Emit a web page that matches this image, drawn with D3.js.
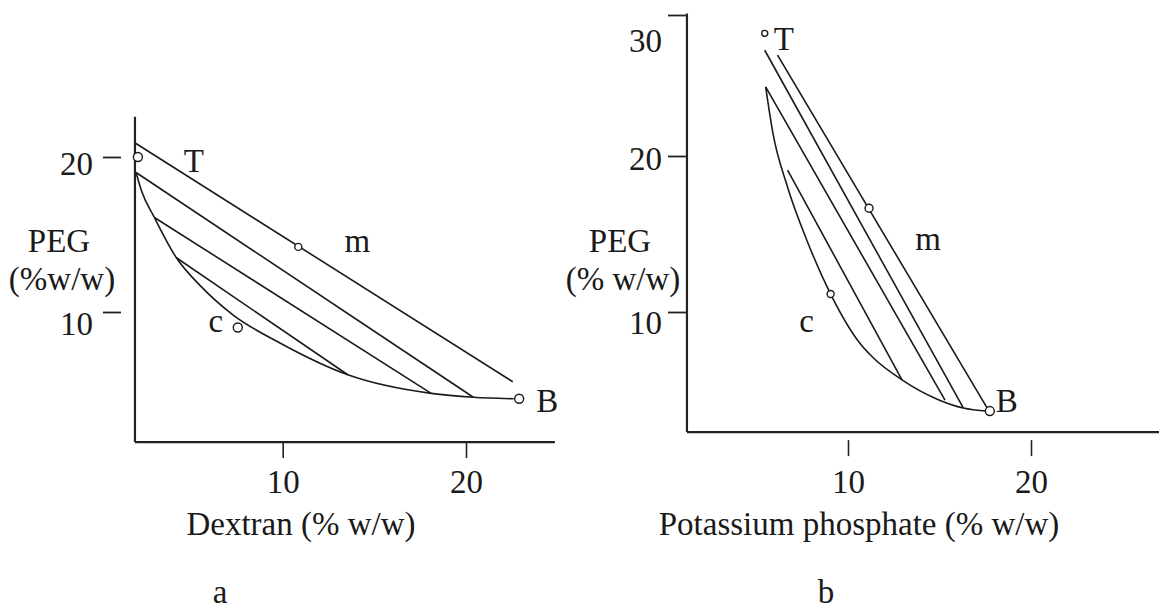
<!DOCTYPE html>
<html lang="en">
<head>
<meta charset="utf-8">
<title>PEG phase diagrams</title>
<script src="https://cdn.jsdelivr.net/npm/d3@7"></script>
<style>
  body { margin: 0; background: #fff; }
  svg text { font-family: "Liberation Serif", "Times New Roman", serif; fill: #1a1a1a; }
</style>
</head>
<body>
<script>
// ---- panel a : PEG / Dextran ----
var dexCurveX = [2.0, 2.3, 3.0, 4.2, 5.5, 7.3, 9.85, 13.55, 18.1, 20.4, 22.6];
var dexCurveY = [19.0, 17.8, 16.1, 13.5, 11.7, 9.8, 8.0, 5.95, 4.75, 4.5, 4.4];
var dexTieX1 = [1.95, 2.0, 3.0, 4.2];
var dexTieY1 = [20.9, 19.0, 16.1, 13.5];
var dexTieX2 = [22.55, 20.4, 18.1, 13.55];
var dexTieY2 = [5.5, 4.5, 4.75, 5.95];
var dexPointNames = ["T", "m", "c", "B"];
var dexPointX = [2.1, 10.85, 7.55, 22.9];
var dexPointY = [20.0, 14.2, 9.0, 4.4];
var dexXTicks = [10, 20];
var dexYTicks = [10, 20];

// ---- panel b : PEG / potassium phosphate ----
var phosCurveX = [5.5, 5.9, 6.7, 7.75, 9.05, 10.65, 11.35, 12.95, 15.0, 16.3, 17.6];
var phosCurveY = [24.9, 21.6, 18.0, 14.6, 11.15, 8.0, 7.1, 5.65, 4.35, 3.85, 3.65];
var phosTieX1 = [6.15, 5.45, 5.5, 6.7];
var phosTieY1 = [27.15, 27.5, 24.9, 19.1];
var phosTieX2 = [17.6, 16.3, 15.3, 12.95];
var phosTieY2 = [3.85, 3.85, 4.35, 5.65];
var phosPointNames = ["T", "m", "c", "B"];
var phosPointX = [5.45, 11.15, 9.05, 17.75];
var phosPointY = [28.7, 16.65, 11.15, 3.65];
var phosXTicks = [10, 20];
var phosYTicks = [10, 20, 30];

var W = 1159, H = 610;
var svg = d3.select("body").append("svg").attr("width", W).attr("height", H);
svg.append("rect").attr("width", W).attr("height", H).attr("fill", "#fff");

function zip(xs, ys) {
    return xs.map(function (d, i) { return [d, ys[i]]; });
}

function drawPanel(p) {
    var g = svg.append("g");
    var x = p.x, y = p.y;

    // axis lines
    g.append("line")
        .attr("x1", x(p.xMin)).attr("x2", x(p.xMin))
        .attr("y1", y(p.yMax)).attr("y2", y(p.yMin))
        .attr("stroke", "#222").attr("stroke-width", 2.2);
    g.append("line")
        .attr("x1", x(p.xMin)).attr("x2", x(p.xMax))
        .attr("y1", y(p.yMin)).attr("y2", y(p.yMin))
        .attr("stroke", "#222").attr("stroke-width", 2.2);

    // x axis ticks + labels
    var gx = g.append("g").attr("transform", "translate(0," + y(p.yMin) + ")")
        .call(d3.axisBottom(x).tickValues(p.xTicks).tickSize(16).tickPadding(12));
    gx.select(".domain").remove();
    gx.selectAll(".tick line").attr("y1", p.xTickGap).attr("y2", p.xTickGap + 16)
        .attr("stroke", "#222").attr("stroke-width", 1.6);
    gx.selectAll(".tick text").attr("font-size", 33).attr("font-family", null)
        .attr("y", 51 - (y(p.yMin) - 442)).attr("dy", 0);

    // y axis ticks + labels
    var gy = g.append("g").attr("transform", "translate(" + x(p.xMin) + ",0)")
        .call(d3.axisLeft(y).tickValues(p.yTicks).tickSize(0));
    gy.select(".domain").remove();
    gy.selectAll(".tick line").attr("x1", -p.yTickOut).attr("x2", -p.yTickIn)
        .attr("stroke", "#222").attr("stroke-width", 1.8);
    gy.selectAll(".tick text").attr("font-size", 33).attr("font-family", null)
        .attr("x", -p.yLabelGap)
        .attr("transform", function (d) { return "translate(0," + (p.labelY(d) - y(d)) + ")"; })
        .attr("dy", "0.34em");
    gy.attr("font-family", null).attr("font-size", null);
    gx.attr("font-family", null).attr("font-size", null);

    // binodal curve
    var line = d3.line().x(function (d) { return x(d[0]); }).y(function (d) { return y(d[1]); });
    g.append("path")
        .datum(zip(p.curveX, p.curveY))
        .attr("d", line.curve(d3.curveMonotoneX))
        .attr("fill", "none").attr("stroke", "#1a1a1a").attr("stroke-width", 1.6);

    // tie lines
    g.selectAll(".tie").data(p.tieX1).enter().append("line")
        .attr("x1", function (d) { return x(d); })
        .attr("y1", function (d, i) { return y(p.tieY1[i]); })
        .attr("x2", function (d, i) { return x(p.tieX2[i]); })
        .attr("y2", function (d, i) { return y(p.tieY2[i]); })
        .attr("stroke", "#1a1a1a").attr("stroke-width", 1.6);

    // points
    g.selectAll(".pt").data(p.names).enter().append("circle")
        .attr("cx", function (d, i) { return x(p.px[i]); })
        .attr("cy", function (d, i) { return y(p.py[i]); })
        .attr("r", function (d, i) { return p.r[i]; })
        .attr("fill", "#fff").attr("stroke", "#1a1a1a").attr("stroke-width", 1.4);

    g.selectAll(".lbl").data(p.names).enter().append("text")
        .attr("x", function (d, i) { return x(p.px[i]) + p.lblOff[i][0]; })
        .attr("y", function (d, i) { return y(p.py[i]) + p.lblOff[i][1]; })
        .attr("text-anchor", "middle").attr("font-size", 33)
        .text(function (d) { return d; });

    // axis titles
    g.append("text").attr("x", p.yTitleX).attr("y", 252).attr("text-anchor", "middle")
        .attr("font-size", 33).text("PEG");
    g.append("text").attr("x", p.yTitleX + 3).attr("y", 290).attr("text-anchor", "middle")
        .attr("font-size", 33).text(p.yUnit);
    g.append("text").attr("x", p.xTitleX).attr("y", 535).attr("text-anchor", "middle")
        .attr("font-size", 33).text(p.xTitle);
    g.append("text").attr("x", p.tagX).attr("y", 603).attr("text-anchor", "middle")
        .attr("font-size", 33).text(p.tag);
}

drawPanel({
    x: d3.scaleLinear().domain([10, 20]).range([282.7, 466]),
    y: d3.scaleLinear().domain([10, 20]).range([312, 157]),
    xMin: 1.94, xMax: 24.85, yMin: 1.61, yMax: 22.6,
    xTicks: dexXTicks, yTicks: dexYTicks, xTickGap: 0,
    yTickOut: 32, yTickIn: 14, yLabelGap: 42,
    labelY: d3.scaleLinear().domain([10, 20]).range([323, 163]),
    curveX: dexCurveX, curveY: dexCurveY,
    tieX1: dexTieX1, tieY1: dexTieY1, tieX2: dexTieX2, tieY2: dexTieY2,
    names: dexPointNames, px: dexPointX, py: dexPointY,
    r: [4.5, 3.5, 4.5, 4.5],
    lblOff: [[56, 15], [59, 5], [-22, 4], [28, 13]],
    yTitleX: 59, yUnit: "(%w/w)", xTitleX: 301, xTitle: "Dextran (% w/w)",
    tagX: 220, tag: "a"
});

drawPanel({
    x: d3.scaleLinear().domain([10, 20]).range([848, 1031]),
    y: d3.scaleLinear().domain([10, 20, 30]).range([312, 156, 15]),
    xMin: 1.2, xMax: 27.1, yMin: 2.3, yMax: 30.1,
    xTicks: phosXTicks, yTicks: phosYTicks, xTickGap: 8,
    yTickOut: 19, yTickIn: 1, yLabelGap: 25,
    labelY: d3.scaleLinear().domain([10, 20, 30]).range([322, 158, 40]),
    curveX: phosCurveX, curveY: phosCurveY,
    tieX1: phosTieX1, tieY1: phosTieY1, tieX2: phosTieX2, tieY2: phosTieY2,
    names: phosPointNames, px: phosPointX, py: phosPointY,
    r: [3, 4, 3.5, 4.5],
    lblOff: [[19, 17], [59, 42], [-24, 38], [17, 1]],
    yTitleX: 620, yUnit: "(% w/w)", xTitleX: 859, xTitle: "Potassium phosphate (% w/w)",
    tagX: 826, tag: "b"
});
</script>
</body>
</html>
